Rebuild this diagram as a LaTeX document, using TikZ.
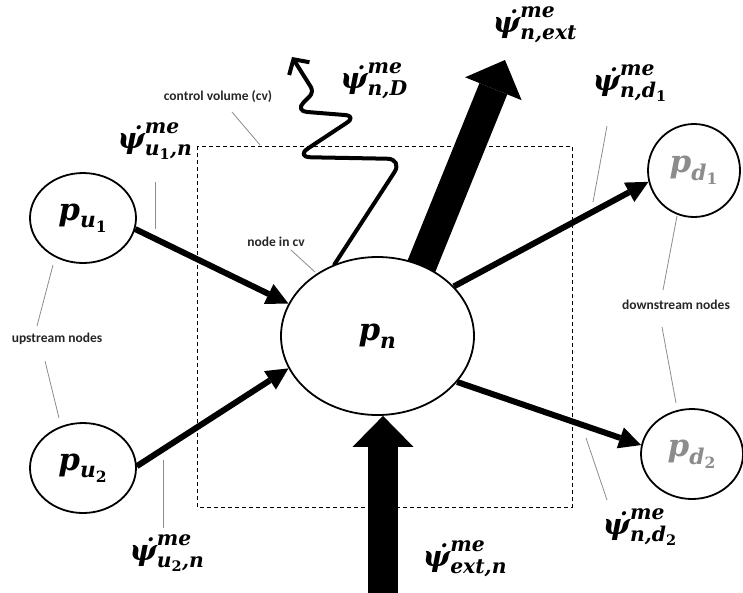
\documentclass[tikz,border=0pt]{standalone}
\usepackage{amsmath}
\usepackage{fontspec}
\newfontfamily\notefont{Carlito}
\newfontfamily\symfont{DejaVu Serif}
\usetikzlibrary{arrows.meta,backgrounds,calc,shapes.geometric}
% bold italic / bold upright symbol pieces
\newcommand{\vi}[1]{\text{\symfont\bfseries\itshape #1}}
\newcommand{\vu}[1]{\text{\symfont\bfseries #1}}
\newcommand{\fluxsym}[1]{$\vi{ψ̇}^{\vi{me}}_{#1}$}

\begin{document}
\begin{tikzpicture}[x=1pt,y=-1pt,
  state/.style={ellipse, draw, line width=1.8pt, fill=white, inner sep=0pt, font=\fontsize{31}{34}\selectfont},
  flux/.style={font=\fontsize{29}{32}\selectfont, inner sep=0pt},
  note/.style={font=\notefont\bfseries\fontsize{13.5}{15}\selectfont, text=black!85, inner sep=0pt},
  leader/.style={draw=black!45, line width=0.8pt},
  flow/.style={line width=6pt, -{Triangle[length=22pt 0 0, width=22pt 0 0, line width=0pt 0 0]}},
  bigflow/.style={line width=30pt, -{Triangle[length=31pt 0 0, width=61pt 0 0, line width=0pt 0 0]}},
  wave/.style={line width=4pt, line cap=round, line join=round, -{Straight Barb[length=11pt 0 0, width=24pt 0 0]}},
  cvbox/.style={draw, line width=0.9pt, dash pattern=on 4pt off 3pt}
]
\useasboundingbox (0,0) rectangle (743,592);

% nodes
\node[state, minimum width=106pt, minimum height=90pt] (u1) at (83,218) {$\vi{p}_{\vi{u}_{\vu{1}}}$};
\node[state, minimum width=106pt, minimum height=90pt] (u2) at (83,468) {$\vi{p}_{\vi{u}_{\vu{2}}}$};
\node[state, minimum width=193pt, minimum height=158pt] (pn) at (377.5,336) {$\vi{p}_{\vi{n}}$};
\node[state, minimum width=92pt, minimum height=93pt, text=black!45] (d1) at (694,170.5) {$\vi{p}_{\vi{d}_{\vu{1}}}$};
\node[state, minimum width=102pt, minimum height=90pt, text=black!45] (d2) at (692,454) {$\vi{p}_{\vi{d}_{\vu{2}}}$};

% free ends of the exchange fluxes
\coordinate (extout) at (505,60);
\coordinate (extin) at (383,600);

\begin{scope}[on background layer]
  % control volume
  \draw[cvbox] (197,146) rectangle (572,507);
  % mass flows between nodes
  \draw[flow] (u1.348) -- (pn.160);
  \draw[flow] (u2.2) -- (pn.200);
  \draw[flow] (pn.33) -- (d1.194);
  \draw[flow] (pn.330) -- (d2.170);
  % external exchange
  \draw[bigflow, shorten <=-12pt] (pn.58) -- (extout);
  \draw[bigflow] (extin) -- (extin |- pn.south);
  % diffusive loss
  \draw[wave] (pn.121) [rounded corners=16pt] -- (403,159) -- (295,157)
        [rounded corners=12pt] -- (357,116) -- (295,111)
        [rounded corners=6pt] -- (314,92) -- (292,57);
\end{scope}

% flux labels
\node[flux] (lu1n) at (155,141) {\fluxsym{\vi{u}_{\vu{1}}\vi{,n}}};
\node[flux] (lu2n) at (167,553) {\fluxsym{\vi{u}_{\vu{2}}\vi{,n}}};
\node[flux] (lextn) at (465,559) {\fluxsym{\vi{ext,n}}};
\node[flux] (lnd2) at (640,527) {\fluxsym{\vi{n,d}_{\vu{2}}}};
\node[flux] (lnd1) at (630,83) {\fluxsym{\vi{n,d}_{\vu{1}}}};
\node[flux] (lnD) at (374,81) {\fluxsym{\vi{n,D}}};
\node[flux] (lnext) at (535,25) {\fluxsym{\vi{n,ext}}};

% annotations
\node[note] (tcv) at (218,97) {control volume (cv)};
\node[note] (tnode) at (276,242) {node in cv};
\node[note] (tup) at (57,339) {upstream nodes};
\node[note] (tdown) at (676,305) {downstream nodes};

% leader lines
\coordinate (c1a) at (232,112); \coordinate (c1b) at (260,145);
\coordinate (c2a) at (291,250); \coordinate (c2b) at (315,272);
\coordinate (c3a) at (155,182); \coordinate (c3b) at (155,229);
\coordinate (c4a) at (53,265);  \coordinate (c4b) at (37,326);
\coordinate (c5a) at (45,361);  \coordinate (c5b) at (59,418);
\coordinate (c6a) at (163,460); \coordinate (c6b) at (163,528);
\coordinate (c7a) at (586,438); \coordinate (c7b) at (607,500);
\coordinate (c8a) at (607,126); \coordinate (c8b) at (593,202);
\coordinate (c9a) at (677,216); \coordinate (c9b) at (663,290);
\coordinate (c10a) at (662,327); \coordinate (c10b) at (676,403);
\foreach \k in {1,...,10} {\draw[leader] (c\k a) -- (c\k b);}
\end{tikzpicture}
\end{document}
